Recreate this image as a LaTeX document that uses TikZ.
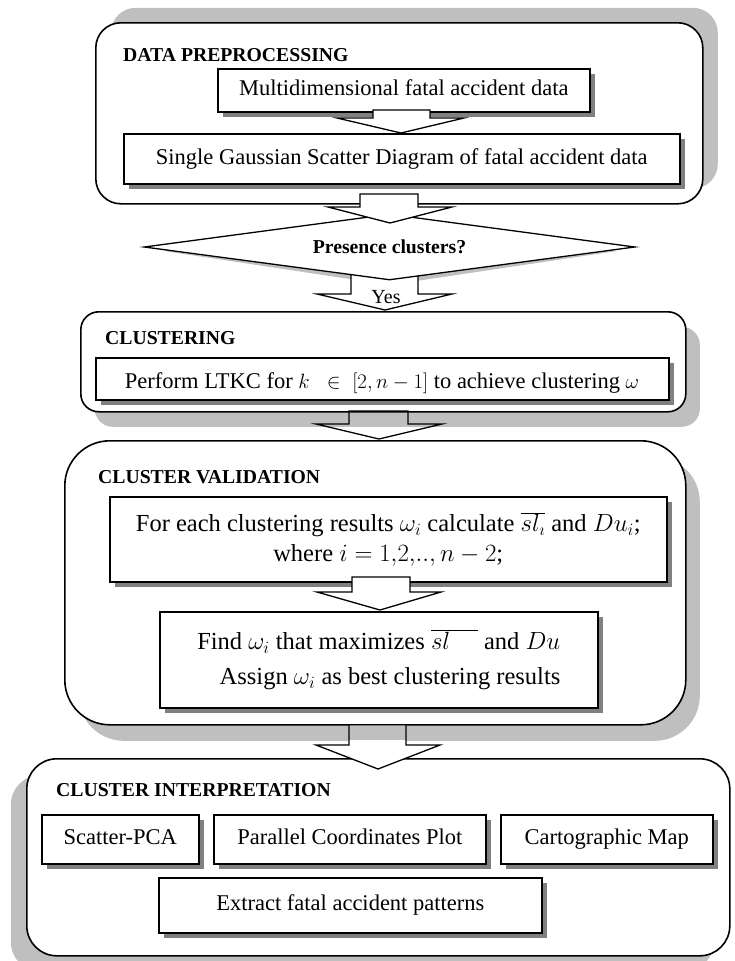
\documentclass[tikz,border=0pt]{standalone}
\usepackage{fontspec}
\setmainfont{Liberation Serif}
\usetikzlibrary{shadows,shapes.geometric}
\definecolor{shadowlight}{gray}{0.75}
\definecolor{shadowdark}{gray}{0.5}
\newcommand\myBody{\fontsize{22.5}{27}\selectfont}
\newcommand\myBig{\fontsize{24.5}{30}\selectfont}
\newcommand\myFind{\fontsize{24.5}{35}\selectfont}
\newcommand\myTitle{\fontsize{19.7}{24}\selectfont\bfseries}
\newcommand\myYes{\fontsize{20}{24}\selectfont}
\newcommand\blockarrow[9][]{%
  \path[#1] (#2,#4) -- (#2,#5) -- (#6,#5) -- (#8,#9) -- (#7,#5) -- (#3,#5) -- (#3,#4) -- cycle;}
\tikzset{
  bigbox/.style={draw, line width=1.6pt, fill=white, inner sep=0pt, anchor=north west},
  multibox/.style={draw, line width=1.6pt, fill=white, inner sep=0pt, anchor=north west,
    drop shadow={shadow xshift=5pt, shadow yshift=-5pt, fill=shadowdark, opacity=1}},
  ibox/.style={multibox, font=\myBody, text height=15.5pt, text depth=4.5pt},
  titletext/.style={anchor=west, inner sep=0pt, font=\myTitle},
  barrow/.style={draw, line width=1.3pt, fill=white, line join=miter},
  barrowopen/.style={draw, line width=1.3pt, line join=miter},
}
\begin{document}
\begin{tikzpicture}[x=1pt,y=-1pt]
\useasboundingbox (0,0) rectangle (734,961);

% ---------- DATA PREPROCESSING ----------
\node[bigbox, minimum width=607pt, minimum height=181pt, rounded corners=25pt,
  drop shadow={shadow xshift=15pt, shadow yshift=15pt, fill=shadowlight, opacity=1}] (pre) at (95,22) {};
\node[titletext] (pret) at (123,55) {DATA PREPROCESSING};
\node[ibox, minimum width=372pt, minimum height=43pt] (mdata) at (217,68) {Multidimensional fatal accident data};
\node[ibox, minimum width=556pt, minimum height=50pt] (sgsd) at (123,133) {Single Gaussian Scatter Diagram of fatal accident data};
\blockarrow[barrow]{373}{430}{110}{118}{337}{464}{401}{133}

% ---------- decision ----------
\fill[shadowlight] (164,251) -- (389.5,220) -- (617,251) -- (389.5,285) -- cycle;
\blockarrow[barrow]{351}{418}{265}{294}{317}{452}{385}{310}
\node[draw, diamond, fill=white, line width=1.3pt, minimum width=491pt, minimum height=66pt,
  aspect=7.4, inner sep=0pt, font=\myTitle] (dec) at (389.5,247) {Presence clusters?};
\blockarrow[barrow]{360}{418}{194}{207}{328}{452}{390}{223}
\node[font=\myYes, inner sep=0pt] (yes) at (386,297) {Yes};

% ---------- CLUSTERING ----------
\node[bigbox, minimum width=605pt, minimum height=100pt, rounded corners=18pt,
  drop shadow={shadow xshift=14pt, shadow yshift=-15pt, fill=shadowlight, opacity=1}] (clu) at (80,311) {};
\node[titletext] (clut) at (105,338) {CLUSTERING};
\node[multibox, minimum width=573pt, minimum height=42pt] (ltkc) at (95,357) {};
\begin{scope}
  \clip (96,358) rectangle (667,397.5);
  \node[font=\myBody, anchor=base, inner sep=0pt] (ltkct) at (382,388)
    {Perform LTKC for $k\;\;\in\;[2, n-1]$ to achieve clustering $\omega$};
\end{scope}
\blockarrow[barrowopen]{349}{408}{411}{424}{316}{442}{379}{439}

% ---------- CLUSTER INTERPRETATION ----------
\node[bigbox, minimum width=703pt, minimum height=197pt, rounded corners=30pt,
  drop shadow={shadow xshift=-16pt, shadow yshift=-16pt, fill=shadowlight, opacity=1}] (interp) at (26,758) {};
\node[titletext] (interpt) at (56,790) {CLUSTER INTERPRETATION};
\node[ibox, minimum width=157pt, minimum height=49pt] (spca) at (41,814) {Scatter-PCA};
\node[ibox, minimum width=272pt, minimum height=49pt] (pcp) at (213,814) {Parallel Coordinates Plot};
\node[ibox, minimum width=212pt, minimum height=49pt] (cmap) at (500,814) {Cartographic Map};
\node[ibox, minimum width=383pt, minimum height=55pt] (efap) at (158,877) {Extract fatal accident patterns};

% ---------- CLUSTER VALIDATION ----------
\node[bigbox, minimum width=621pt, minimum height=284pt, rounded corners=45pt,
  drop shadow={shadow xshift=14pt, shadow yshift=-16pt, fill=shadowlight, opacity=1}] (val) at (64,440) {};
\node[titletext] (valt) at (98,477) {CLUSTER VALIDATION};
\node[multibox, minimum width=557pt, minimum height=85pt, align=center, font=\myBig] (each) at (109,496)
  {For each clustering results $\omega_i$ calculate $\overline{sl_\imath}$ and $Du_i$;\\
   where $i = 1{,}2{,}..{,}\,n-2$;};
\node[multibox, minimum width=438pt, minimum height=96pt, align=right, font=\myFind] (find) at (159,611)
  {Find $\omega_i$ that maximizes $\overline{sl\;\;\;\;}$ and $Du$\\
   Assign $\omega_i$ as best clustering results};
\blockarrow[barrow]{352}{410}{577}{592}{317}{441}{380}{610}

% ---------- arrow to interpretation ----------
\blockarrow[fill=white]{349}{406}{724.8}{745}{316}{440}{378}{769}
\fill[shadowlight] (349,724.8) rectangle (406,740);
\blockarrow[barrowopen]{349}{406}{724.8}{745}{316}{440}{378}{769}
\end{tikzpicture}
\end{document}
